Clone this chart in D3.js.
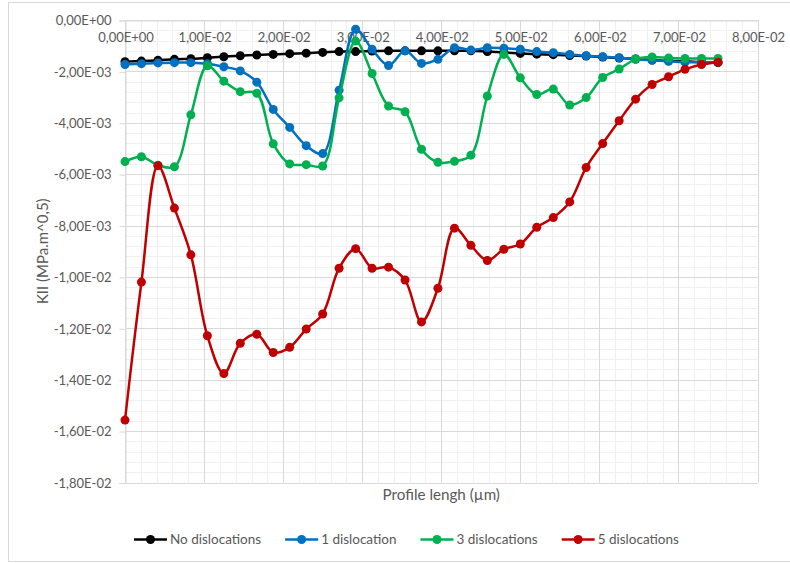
<!DOCTYPE html>
<html><head><meta charset="utf-8">
<script src="https://cdn.jsdelivr.net/npm/d3@7/dist/d3.min.js"></script>
<style>
body{margin:0;background:#fff}
svg{display:block}
text{font-family:Lato,"Open Sans",sans-serif;fill:#595959}
</style>
</head><body>
<svg id="chart" width="790" height="563"></svg>
<script>
// ---- data ----
const xValues = [0, 0.00208, 0.00417, 0.00625, 0.00833, 0.01042, 0.0125, 0.01458, 0.01667, 0.01875,
  0.02083, 0.02292, 0.025, 0.02708, 0.02917, 0.03125, 0.03333, 0.03542, 0.0375, 0.03958,
  0.04167, 0.04375, 0.04583, 0.04792, 0.05, 0.05208, 0.05417, 0.05625, 0.05833, 0.06042,
  0.0625, 0.06458, 0.06667, 0.06875, 0.07083, 0.07292, 0.075];

const noDislocations = [-0.00162, -0.00160, -0.00157, -0.00153, -0.00151, -0.00147, -0.00143, -0.00139, -0.00136, -0.00134,
  -0.00131, -0.00129, -0.00126, -0.00123, -0.00123, -0.00121, -0.00120, -0.00120, -0.00120, -0.00120,
  -0.00120, -0.00120, -0.00123, -0.00126, -0.00130, -0.00133, -0.00135, -0.00138, -0.00140, -0.00144,
  -0.00148, -0.00152, -0.00156, -0.00159, -0.00161, -0.00164, -0.00166];

const oneDislocation = [-0.00173, -0.00170, -0.00167, -0.00166, -0.00166, -0.00170, -0.00182, -0.00198, -0.00242, -0.00348,
  -0.00418, -0.00489, -0.00520, -0.00273, -0.00036, -0.00114, -0.00177, -0.00120, -0.00169, -0.00153,
  -0.00108, -0.00117, -0.00108, -0.00110, -0.00114, -0.00123, -0.00127, -0.00134, -0.00139, -0.00143,
  -0.00147, -0.00152, -0.00157, -0.00161, -0.00164, -0.00164, -0.00164];

const threeDislocations = [-0.00551, -0.00532, -0.00565, -0.00571, -0.00369, -0.00178, -0.00238, -0.00279, -0.00285, -0.00482,
  -0.00560, -0.00563, -0.00568, -0.00303, -0.00082, -0.00208, -0.00335, -0.00357, -0.00503, -0.00554,
  -0.00550, -0.00526, -0.00296, -0.00134, -0.00225, -0.00290, -0.00269, -0.00331, -0.00302, -0.00224,
  -0.00191, -0.00152, -0.00144, -0.00148, -0.00150, -0.00150, -0.00150];

const fiveDislocations = [-0.01557, -0.01020, -0.00567, -0.00732, -0.00914, -0.01229, -0.01376, -0.01258, -0.01223, -0.01294,
  -0.01274, -0.01203, -0.01144, -0.00966, -0.00890, -0.00966, -0.00962, -0.01012, -0.01175, -0.01044,
  -0.00810, -0.00877, -0.00936, -0.00892, -0.00872, -0.00807, -0.00769, -0.00708, -0.00574, -0.00481,
  -0.00392, -0.00308, -0.00251, -0.00221, -0.00192, -0.00173, -0.00164];

const seriesNames = ["No dislocations", "1 dislocation", "3 dislocations", "5 dislocations"];

const xTickValues = [0, 0.01, 0.02, 0.03, 0.04, 0.05, 0.06, 0.07, 0.08];
const xTickLabels = ["0,00E+00", "1,00E-02", "2,00E-02", "3,00E-02", "4,00E-02", "5,00E-02", "6,00E-02", "7,00E-02", "8,00E-02"];
const yTickValues = [0, -0.002, -0.004, -0.006, -0.008, -0.01, -0.012, -0.014, -0.016, -0.018];
const yTickLabels = ["0,00E+00", "-2,00E-03", "-4,00E-03", "-6,00E-03", "-8,00E-03", "-1,00E-02", "-1,20E-02", "-1,40E-02", "-1,60E-02", "-1,80E-02"];

const xTitle = "Profile lengh (µm)";
const yTitle = "KII (MPa.m^0,5)";

// ---- layout ----
const colors = ["#000000", "#0070C0", "#00B050", "#C00000"];
const series = [noDislocations, oneDislocation, threeDislocations, fiveDislocations];
const plot = {left: 125, right: 757.5, top: 20, bottom: 482.5};

const svg = d3.select("#chart");
svg.append("rect").attr("x", 0).attr("y", 0).attr("width", 790).attr("height", 563).attr("fill", "#fff");
svg.append("rect").attr("x", 8.5).attr("y", 2.5).attr("width", 800).attr("height", 559)
  .attr("fill", "none").attr("stroke", "#d9d9d9");

const x = d3.scaleLinear().domain([0, 0.08]).range([plot.left, plot.right]);
const y = d3.scaleLinear().domain([-0.018, 0]).range([plot.bottom, plot.top]);
const crisp = v => Math.round(v) + 0.5;

// minor grid
const xMinor = d3.range(0, 41).map(i => i * 0.002);
const yMinor = d3.range(0, 46).map(i => -i * 0.0004);
const g = svg.append("g");
g.selectAll(".vmin").data(xMinor).join("line")
  .attr("x1", d => crisp(x(d))).attr("x2", d => crisp(x(d)))
  .attr("y1", plot.top).attr("y2", plot.bottom).attr("stroke", "#f0f0f0");
g.selectAll(".hmin").data(yMinor).join("line")
  .attr("y1", d => crisp(y(d))).attr("y2", d => crisp(y(d)))
  .attr("x1", plot.left).attr("x2", plot.right).attr("stroke", "#f0f0f0");
// major grid
g.selectAll(".vmaj").data(xTickValues).join("line")
  .attr("x1", d => crisp(x(d))).attr("x2", d => crisp(x(d)))
  .attr("y1", plot.top).attr("y2", plot.bottom).attr("stroke", "#d9d9d9");
g.selectAll(".hmaj").data(yTickValues).join("line")
  .attr("y1", d => crisp(y(d))).attr("y2", d => crisp(y(d)))
  .attr("x1", plot.left).attr("x2", plot.right).attr("stroke", "#d9d9d9");

// y axis (left) with outward ticks
const yAxis = d3.axisLeft(y).tickValues(yTickValues)
  .tickFormat((d, i) => yTickLabels[i]).tickSize(6).tickPadding(8);
const yg = svg.append("g").attr("transform", `translate(${crisp(plot.left)},0.5)`).call(yAxis);
yg.select(".domain").attr("stroke", "#d9d9d9");
yg.selectAll(".tick line").attr("stroke", "#d9d9d9");
yg.selectAll(".tick text").style("font-size", "13px").style("font-family", "Lato").attr("fill", "#595959");

// x axis at y=0 (top), labels below the line
const xAxis = d3.axisBottom(x).tickValues(xTickValues)
  .tickFormat((d, i) => xTickLabels[i]).tickSize(0).tickPadding(12);
const xg = svg.append("g").attr("transform", `translate(0.5,${crisp(y(0))})`).call(xAxis);
xg.select(".domain").attr("stroke", "#d9d9d9");
xg.selectAll(".tick text").style("font-size", "13px").style("font-family", "Lato").attr("fill", "#595959");

// axis titles
svg.append("text").attr("x", (plot.left + plot.right) / 2).attr("y", 495).attr("dy", "0.35em")
  .attr("text-anchor", "middle").style("font-size", "15.2px").text(xTitle);
svg.append("text").attr("transform", `translate(43,${(plot.top + plot.bottom) / 2}) rotate(-90)`)
  .attr("dy", "0.35em").attr("text-anchor", "middle").style("font-size", "15px").text(yTitle);

// series
const line = d3.line().x((d, i) => x(xValues[i])).y(d => y(d)).curve(d3.curveCatmullRom.alpha(0.5));
series.forEach((s, k) => {
  const sg = svg.append("g");
  sg.append("path").datum(s).attr("d", line).attr("fill", "none")
    .attr("stroke", colors[k]).attr("stroke-width", 2.5).attr("stroke-linejoin", "round");
  sg.selectAll("circle").data(s).join("circle")
    .attr("cx", (d, i) => x(xValues[i])).attr("cy", d => y(d)).attr("r", 4.5).attr("fill", colors[k]);
});

// legend
const lg = svg.append("g");
let cx = 134;
const ly = 539.5;
seriesNames.forEach((name, k) => {
  lg.append("line").attr("x1", cx).attr("x2", cx + 33).attr("y1", ly).attr("y2", ly)
    .attr("stroke", colors[k]).attr("stroke-width", 2.5);
  lg.append("circle").attr("cx", cx + 16.5).attr("cy", ly).attr("r", 4.5).attr("fill", colors[k]);
  const t = lg.append("text").attr("x", cx + 36).attr("y", ly).attr("dy", "0.35em")
    .style("font-size", "13.5px").text(name);
  cx = cx + 36 + t.node().getComputedTextLength() + 24;
});
</script>
</body></html>
